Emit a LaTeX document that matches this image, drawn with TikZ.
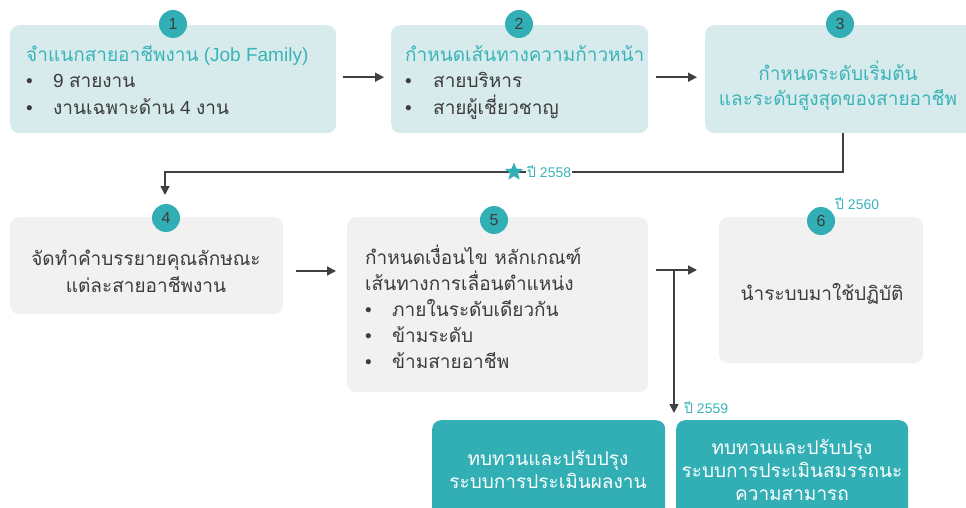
\documentclass[tikz,border=0pt]{standalone}
\usepackage{fontspec}
\setmainfont{Liberation Sans}
\newfontfamily\thf[Script=Thai]{Loma}
\usetikzlibrary{arrows.meta,shapes.geometric,calc}
\definecolor{tealc}{HTML}{31AFB5}
\definecolor{boxa}{HTML}{D7EBEC}
\definecolor{boxg}{HTML}{F1F1F1}
\definecolor{htxt}{HTML}{3AB4B9}
\definecolor{dtxt}{HTML}{3C3C3C}
\definecolor{arrc}{HTML}{404040}
\newcommand{\bul}[1]{\makebox[#1][l]{•}}
\tikzset{
  boxA/.style={rectangle, fill=boxa, rounded corners=9pt, inner sep=0pt, anchor=north west},
  boxG/.style={rectangle, fill=boxg, rounded corners=9pt, inner sep=0pt, anchor=north west},
  boxT/.style={rectangle, fill=tealc, rounded corners=9pt, inner sep=0pt, anchor=north west},
  num/.style={circle, fill=tealc, minimum size=28pt, inner sep=0pt, text=dtxt, font=\fontsize{16}{16}\selectfont},
  conn/.style={draw=arrc, line width=1.5pt, -{Triangle[length=9pt,width=9pt]}},
  txt/.style={font=\fontsize{19}{22}\selectfont, text=dtxt, inner sep=0pt},
  htx/.style={font=\fontsize{19}{22}\selectfont, text=htxt, inner sep=0pt},
  wtx/.style={font=\fontsize{19}{22}\selectfont, text=white, inner sep=0pt, anchor=base},
  yr/.style={font=\fontsize{14}{16}\selectfont, text=htxt, inner sep=1pt, anchor=base west},
}
\begin{document}
\begin{tikzpicture}[x=1pt,y=-1pt]
\useasboundingbox (0,0) rectangle (966,508);
% boxes
\node[boxA, minimum width=326pt, minimum height=108pt] (b1) at (10,25) {};
\node[boxA, minimum width=257pt, minimum height=108pt] (b2) at (391,25) {};
\node[boxA, minimum width=276pt, minimum height=108pt] (b3) at (705,25) {};
\node[boxG, minimum width=273pt, minimum height=97pt] (b4) at (10,217) {};
\node[boxG, minimum width=301pt, minimum height=175pt] (b5) at (347,217) {};
\node[boxG, minimum width=204pt, minimum height=146pt] (b6) at (719,217) {};
\node[boxT, minimum width=233pt, minimum height=100pt] (b7) at (432,420) {};
\node[boxT, minimum width=232pt, minimum height=100pt] (b8) at (676,420) {};
% number circles
\node[num] (c1) at (173,24) {1};
\node[num] (c2) at (519,24) {2};
\node[num] (c3) at (840,24) {3};
\node[num] (c4) at (166,218) {4};
\node[num] (c5) at (494,220) {5};
\node[num] (c6) at (821,221) {6};
% box 1 text
\node[htx, anchor=base west] (t1h) at (26,62) {{\thf จำแนกสายอาชีพงาน} (Job Family)};
\node[txt, anchor=base west] (t1l1) at (26,88) {\bul{27pt}9 {\thf สายงาน}};
\node[txt, anchor=base west] (t1l2) at (26,115) {\bul{27pt}{\thf งานเฉพาะด้าน} 4 {\thf งาน}};
% box 2 text
\node[htx, anchor=base west] (t2h) at (405,62) {\thf กำหนดเส้นทางความก้าวหน้า};
\node[txt, anchor=base west] (t2l1) at (405,88) {\bul{28pt}{\thf สายบริหาร}};
\node[txt, anchor=base west] (t2l2) at (405,115) {\bul{28pt}{\thf สายผู้เชี่ยวชาญ}};
% box 3 text
\node[htx, anchor=base] (t3a) at (838,81) {\thf กำหนดระดับเริ่มต้น};
\node[htx, anchor=base] (t3b) at (838,106) {\thf และระดับสูงสุดของสายอาชีพ};
% box 4 text
\node[txt, anchor=base] (t4a) at (146,265) {\thf จัดทำคำบรรยายคุณลักษณะ};
\node[txt, anchor=base] (t4b) at (146,292) {\thf แต่ละสายอาชีพงาน};
% box 5 text
\node[txt, anchor=base west] (t5a) at (365,264) {\thf กำหนดเงื่อนไข หลักเกณฑ์};
\node[txt, anchor=base west] (t5b) at (365,290) {\thf เส้นทางการเลื่อนตำแหน่ง};
\node[txt, anchor=base west] (t5c) at (365,316) {\bul{27pt}{\thf ภายในระดับเดียวกัน}};
\node[txt, anchor=base west] (t5d) at (365,342) {\bul{27pt}{\thf ข้ามระดับ}};
\node[txt, anchor=base west] (t5e) at (365,368) {\bul{27pt}{\thf ข้ามสายอาชีพ}};
% box 6 text
\node[txt, anchor=base] (t6) at (822,300) {\thf นำระบบมาใช้ปฏิบัติ};
% box 7, 8 text
\node[wtx] (t7a) at (548,465) {\thf ทบทวนและปรับปรุง};
\node[wtx] (t7b) at (548,488) {\thf ระบบการประเมินผลงาน};
\node[wtx] (t8a) at (792,454) {\thf ทบทวนและปรับปรุง};
\node[wtx] (t8b) at (792,477) {\thf ระบบการประเมินสมรรถนะ};
\node[wtx] (t8c) at (792,500) {\thf ความสามารถ};
% connectors row 1
\draw[conn] ($(b1.east)+(7,-2)$) -- ($(b2.west)+(-7,-2)$);
\draw[conn] ($(b2.east)+(8,-2)$) -- ($(b3.west)+(-8,-2)$);
% 3 -> 4
\coordinate (k3) at (165,172);
\coordinate (k4) at (165,195);
\draw[conn] (b3.south) |- (k3) -- (k4);
\node[star, star points=5, star point ratio=2.3, fill=tealc, minimum size=19pt, inner sep=0pt] (st) at (514,172) {};
\node[yr, fill=white] (y58) at (526,177) {{\thf ปี} 2558};
% 4 -> 5
\coordinate (a45) at (0,271);
\draw[conn] ($(b4.east |- a45)+(13,0)$) -- ($(b5.west |- a45)+(-11,0)$);
% 5 -> 6 and branch
\coordinate (a56) at (0,270);
\coordinate (j5) at (674,270);
\draw[conn] ($(b5.east |- a56)+(8,0)$) -- ($(b6.west |- a56)+(-22,0)$);
\draw[conn] (j5) -- ($(b8.north west)+(-2,-7)$);
\node[yr] (y59) at (683,413) {{\thf ปี} 2559};
\node[yr] (y60) at (834,209) {{\thf ปี} 2560};
\end{tikzpicture}
\end{document}
